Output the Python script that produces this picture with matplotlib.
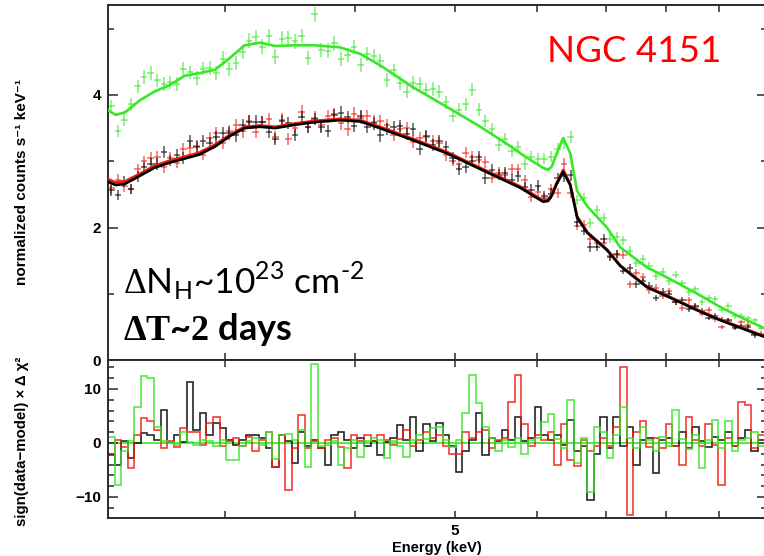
import numpy as np
import matplotlib
matplotlib.use("Agg")
import matplotlib.pyplot as plt
from matplotlib.ticker import NullLocator, FixedLocator

# ---------------------------------------------------------------- data
# spectral channels (keV): 100 logarithmic bins
chan_lo, chan_hi, n_chan = 2.31, 9.95, 100

green_counts = [3.83, 3.46, 3.63, 3.86, 4.13, 4.27, 4.33, 4.22, 4.17, 4.19,
                4.17, 4.40, 4.34, 4.26, 4.40, 4.41, 4.33, 4.55, 4.39, 4.48,
                4.65, 4.82, 4.87, 4.73, 4.89, 4.58, 4.85, 4.86, 4.81, 4.89,
                4.56, 5.22, 4.68, 4.67, 4.78, 4.54, 4.60, 4.72, 4.46, 4.62,
                4.59, 4.51, 4.23, 4.37, 4.18, 4.05, 4.18, 4.17, 4.08, 4.09,
                4.05, 3.89, 3.69, 3.78, 3.86, 4.08, 3.78, 3.61, 3.49, 3.25,
                3.34, 3.15, 3.22, 2.96, 3.07, 3.03, 3.04, 3.07, 3.19, 3.27,
                3.36, 2.42, 2.45, 2.07, 2.27, 2.15, 1.83, 1.86, 1.81, 1.65,
                1.47, 1.53, 1.42, 1.27, 1.33, 1.19, 1.29, 1.16, 1.02, 1.07,
                0.88, 0.93, 0.92, 0.75, 0.81, 0.66, 0.67, 0.63, 0.60, 0.48]

black_counts = [2.56, 2.49, 2.70, 2.58, 2.77, 2.91, 2.96, 2.96, 3.14, 3.01,
                3.10, 3.05, 3.31, 3.21, 3.30, 3.27, 3.37, 3.42, 3.42, 3.39,
                3.54, 3.60, 3.60, 3.59, 3.44, 3.34, 3.61, 3.58, 3.40, 3.67,
                3.52, 3.64, 3.52, 3.46, 3.70, 3.73, 3.67, 3.53, 3.68, 3.52,
                3.57, 3.39, 3.49, 3.51, 3.53, 3.41, 3.48, 3.19, 3.38, 3.25,
                3.31, 3.22, 3.05, 2.88, 2.91, 3.01, 3.06, 2.74, 2.87, 2.80,
                2.83, 2.72, 2.77, 2.61, 2.57, 2.63, 2.47, 2.51, 2.74, 2.77,
                2.79, 2.08, 1.95, 1.70, 1.71, 1.83, 1.55, 1.60, 1.35, 1.39,
                1.14, 1.19, 1.12, 0.94, 1.03, 0.99, 0.87, 0.91, 0.77, 0.82,
                0.74, 0.64, 0.67, 0.61, 0.60, 0.49, 0.51, 0.50, 0.37, 0.38]

red_counts = [2.59, 2.72, 2.62, 2.58, 2.88, 3.00, 3.05, 3.06, 2.91, 3.05,
              2.98, 3.18, 3.20, 3.23, 3.10, 3.35, 3.42, 3.28, 3.45, 3.54,
              3.45, 3.61, 3.44, 3.59, 3.64, 3.36, 3.63, 3.33, 3.50, 3.75,
              3.52, 3.66, 3.54, 3.68, 3.71, 3.57, 3.48, 3.72, 3.66, 3.68,
              3.60, 3.61, 3.54, 3.40, 3.48, 3.50, 3.29, 3.35, 3.37, 3.30,
              3.28, 3.09, 3.01, 2.96, 3.13, 3.06, 3.02, 2.99, 2.75, 2.83,
              2.80, 2.88, 2.88, 2.71, 2.46, 2.54, 2.45, 2.58, 2.52, 2.96,
              2.52, 2.03, 2.04, 1.82, 1.76, 1.77, 1.57, 1.59, 1.58, 1.14,
              1.31, 1.26, 1.05, 1.09, 0.97, 1.04, 0.88, 0.79, 0.90, 0.80,
              0.70, 0.75, 0.62, 0.50, 0.59, 0.50, 0.57, 0.53, 0.39, 0.40]

# sign(data-model) x delta chi^2 per channel
green_delchi = [1.1, -7.8, -1.5, 0.3, 6.7, 12.5, 12.0, 3.0, 0.4, 0.2,
                -0.3, 2.0, 0.2, -0.4, 0.5, 0.3, -0.5, 0.6, -3.2, -3.2,
                -0.6, 0.4, 1.0, -0.3, 2.0, -3.0, 1.5, 1.6, 0.5, 2.5,
                -4.4, 14.6, -0.5, -0.4, 0.3, -4.0, -1.0, 0.6, -2.6, 0.4,
                1.0, 0.5, -2.8, 0.3, -0.6, -2.5, 0.5, 1.5, 0.8, 2.8,
                3.0, 0.5, -0.8, 0.6, 5.5, 12.6, 7.4, 3.0, 1.0, -1.5,
                0.5, -0.8, 1.0, -2.0, 0.6, 1.0, 3.9, 5.3, 0.8, -1.0,
                8.0, -3.7, 1.0, -9.0, 3.0, 2.0, -2.7, 1.5, 6.7, 1.0,
                -1.0, 3.0, 0.5, -1.5, 1.2, -0.6, 6.1, 0.8, -1.2, 1.5,
                -4.6, 0.6, 4.2, -1.0, 4.0, -1.5, 0.5, 1.0, 2.0, -0.5]

red_delchi = [-2.2, 0.5, -0.8, -4.6, 1.5, 4.6, 4.1, 2.5, -0.9, 0.3,
              -0.7, 2.7, 2.0, 2.0, -0.4, 3.7, 4.8, -0.5, 0.4, 1.0,
              -0.6, 1.1, -1.5, 0.5, 2.0, -4.5, 1.5, -8.7, -1.0, 5.2,
              -1.0, 0.4, -1.0, 0.5, 1.0, -0.8, -4.6, 1.5, 0.3, 1.5,
              0.4, 1.5, 0.6, -0.4, 0.8, 2.5, -0.5, 0.5, 2.0, 1.0,
              1.5, -0.6, -2.0, -2.0, 2.0, 1.0, 2.0, 2.5, -1.0, 0.5,
              1.0, 7.6, 12.6, 3.5, -0.5, 1.5, 0.5, 2.0, -4.0, 3.5,
              -3.2, -4.2, 0.5, -1.5, -0.5, 1.0, -0.5, 3.0, 14.1, -13.3,
              2.0, 4.0, -0.8, 1.0, -1.0, 3.5, -0.5, -4.0, 4.8, 0.5,
              -0.6, 3.5, -0.4, -7.8, 1.0, -0.5, 7.6, 7.0, -1.0, 1.5]

black_delchi = [-2.2, -4.0, 0.3, -2.8, 0.0, 1.9, 1.4, 0.5, 6.1, 0.2,
                1.5, 0.1, 11.3, 2.5, 5.5, 1.5, 3.7, 2.7, 0.5, -0.3,
                0.6, 1.5, 1.5, 1.0, -1.0, -4.4, 1.5, 0.4, -3.7, 2.0,
                -0.6, 0.5, -1.0, -4.0, 1.5, 2.0, 0.5, -1.0, 1.0, -0.5,
                0.3, -2.2, 0.2, 1.0, 3.3, 0.5, 4.8, -1.5, 3.5, 0.4,
                3.7, 1.5, -0.5, -5.4, -1.5, 0.5, 5.5, -2.2, 1.0, 0.3,
                2.5, 0.6, 4.8, 0.4, 1.0, 6.7, 1.5, 0.5, 1.5, -0.4,
                4.2, -1.5, -0.5, -10.5, -2.0, 4.8, -1.0, 4.9, -0.5, 3.0,
                -4.1, 0.6, 1.0, -5.6, 0.5, 1.0, -0.5, 2.0, -1.0, 3.0,
                0.4, -0.8, 1.2, 0.5, 2.0, -0.5, 1.0, 2.5, -1.5, 0.5]

# folded best-fit models
model_energy = [2.31, 2.35, 2.40, 2.48, 2.56, 2.65, 2.74, 2.83, 2.93, 3.03,
                3.13, 3.24, 3.35, 3.50, 3.66, 3.87, 4.05, 4.23, 4.55, 4.91,
                5.29, 5.69, 5.78, 6.08, 6.15, 6.20, 6.27, 6.36, 6.46, 6.56,
                6.71, 7.01, 7.22, 7.66, 8.07, 8.57, 9.02, 9.57, 9.95]
green_model = [3.77, 3.70, 3.74, 3.92, 4.05, 4.15, 4.29, 4.33, 4.38, 4.56,
               4.75, 4.79, 4.74, 4.75, 4.75, 4.72, 4.62, 4.45, 4.12, 3.82,
               3.52, 3.20, 3.12, 2.90, 2.87, 2.92, 3.12, 3.35, 3.12, 2.55,
               2.32, 2.00, 1.70, 1.40, 1.22, 1.00, 0.80, 0.60, 0.48]
black_model = [2.69, 2.64, 2.66, 2.78, 2.90, 2.98, 3.04, 3.10, 3.22, 3.38,
               3.50, 3.52, 3.50, 3.55, 3.59, 3.62, 3.60, 3.50, 3.32, 3.12,
               2.88, 2.65, 2.60, 2.39, 2.40, 2.48, 2.66, 2.84, 2.64, 2.15,
               1.92, 1.66, 1.42, 1.10, 0.94, 0.75, 0.60, 0.45, 0.35]
red_model = [2.73, 2.68, 2.70, 2.81, 2.93, 3.01, 3.07, 3.13, 3.25, 3.40,
             3.52, 3.54, 3.52, 3.57, 3.61, 3.64, 3.62, 3.52, 3.34, 3.14,
             2.90, 2.67, 2.62, 2.41, 2.42, 2.50, 2.68, 2.87, 2.66, 2.17,
             1.93, 1.67, 1.43, 1.11, 0.95, 0.76, 0.61, 0.46, 0.36]

# ---------------------------------------------------------------- style
C_BLACK = "#000000"
C_RED = "#f01a10"
C_GREEN = "#36e826"
AX_COL = "#2a2a2a"

plt.rcParams["mathtext.fontset"] = "custom"
plt.rcParams["mathtext.rm"] = "Liberation Serif"
plt.rcParams["mathtext.bf"] = "Liberation Serif:bold"
plt.rcParams["mathtext.sf"] = "Lato"

SANS = ["Liberation Sans", "DejaVu Sans"]
TICK_FONT = dict(family=SANS, weight="bold", size=11)

W, H = 764, 556
fig = plt.figure(figsize=(W / 100, H / 100), dpi=100)

x_left, x_right = 108, 766.6
ax_top = fig.add_axes([x_left / W, 1 - 360 / H, (x_right - x_left) / W, 355 / H])
ax_bot = fig.add_axes([x_left / W, 1 - 518 / H, (x_right - x_left) / W, 158 / H],
                      sharex=ax_top)

edges = np.geomspace(chan_lo, chan_hi, n_chan + 1)
centers = np.sqrt(edges[:-1] * edges[1:])
xerr = np.vstack([centers - edges[:-1], edges[1:] - centers])

# ---------------------------------------------------------------- spectra
spectra = [(red_counts, red_model, C_RED),
           (black_counts, black_model, C_BLACK),
           (green_counts, green_model, C_GREEN)]
for counts, model, col in spectra:
    counts = np.asarray(counts)
    yerr = 0.05 * np.sqrt(counts)
    ax_top.errorbar(centers, counts, xerr=xerr, yerr=yerr, fmt="none",
                    ecolor=col, elinewidth=1.2, alpha=0.6, capsize=0, zorder=2)
for counts, model, col in spectra:
    ax_top.plot(model_energy, model, color=col, lw=1.9, zorder=3,
                solid_joinstyle="round")

ax_top.set_xscale("log")
ax_top.set_xlim(2.31, 10.0)
ax_top.set_ylim(0, 355 / 66.25)

# ---------------------------------------------------------------- residuals
ax_bot.axhline(0, color=C_GREEN, lw=1.2, zorder=1)
for vals, col in [(black_delchi, C_BLACK), (red_delchi, C_RED), (green_delchi, C_GREEN)]:
    ax_bot.stairs(vals, edges, color=col, lw=1.2, baseline=None, alpha=0.85, zorder=2)
ax_bot.set_ylim(-75 / 5.4, 83 / 5.4)

# ---------------------------------------------------------------- axes cosmetics
for ax in (ax_top, ax_bot):
    for s in ax.spines.values():
        s.set_color(AX_COL)
        s.set_linewidth(1.4)
    ax.xaxis.set_major_locator(FixedLocator([3, 4, 5, 6, 7, 8, 9]))
    ax.xaxis.set_minor_locator(NullLocator())
    ax.tick_params(axis="both", which="both", direction="in", top=True, right=True,
                   color=AX_COL, width=1.1)
    ax.tick_params(axis="x", which="major", length=5)
    ax.tick_params(axis="y", which="major", length=7, pad=5)
    ax.tick_params(axis="y", which="minor", length=4)

ax_top.tick_params(axis="x", labelbottom=False)
ax_top.set_yticks([0, 2, 4])
ax_top.set_yticks([1, 3, 5], minor=True)
ax_top.set_yticklabels(["0", "2", "4"], fontdict=TICK_FONT)

ax_bot.set_yticks([-10, 0, 10])
ax_bot.set_yticks(np.arange(-12, 16, 2), minor=True)
ax_bot.set_yticklabels(["\u221210", "0", "10"], fontdict=TICK_FONT)
ax_bot.set_xticklabels(["", "", "5", "", "", "", ""], fontdict=TICK_FONT)
ax_bot.tick_params(axis="x", pad=4)

# axis titles
lab_font = dict(family=SANS, weight="bold", size=11)
fig.text(22 / W, 1 - 182 / H, "normalized counts s\u207b\u00b9 keV\u207b\u00b9",
         rotation=90, ha="center", va="center", **lab_font)
fig.text(22 / W, 1 - 441 / H, "sign(data\u2212model) \u00d7 \u0394 \u03c7\u00b2",
         rotation=90, ha="center", va="center", size=10.8, family=SANS, weight="bold")
fig.text(437 / W, 1 - 541 / H, "Energy (keV)", ha="center", va="top",
         family=SANS, weight="bold", size=10.5)

# annotations
fig.text(547 / W, 1 - 62 / H, "NGC 4151", color="#ff0000", fontsize=26.5,
         family=["Lato", "DejaVu Sans"], va="baseline")
fig.text(123 / W, 1 - 293 / H,
         "$\\Delta$N$_{\\mathsf{H}}$~10$^{\\mathsf{23}}$ cm$^{\\mathsf{\u2010 2}}$",
         fontsize=25.5, family=["Lato", "DejaVu Sans"], va="baseline")
fig.text(123 / W, 1 - 340 / H, r"$\mathbf{\Delta T}$~$\mathbf{2}$ days",
         fontsize=26, family=["Lato", "DejaVu Sans"], weight="bold", va="baseline")

fig.savefig("out.png", dpi=100)
